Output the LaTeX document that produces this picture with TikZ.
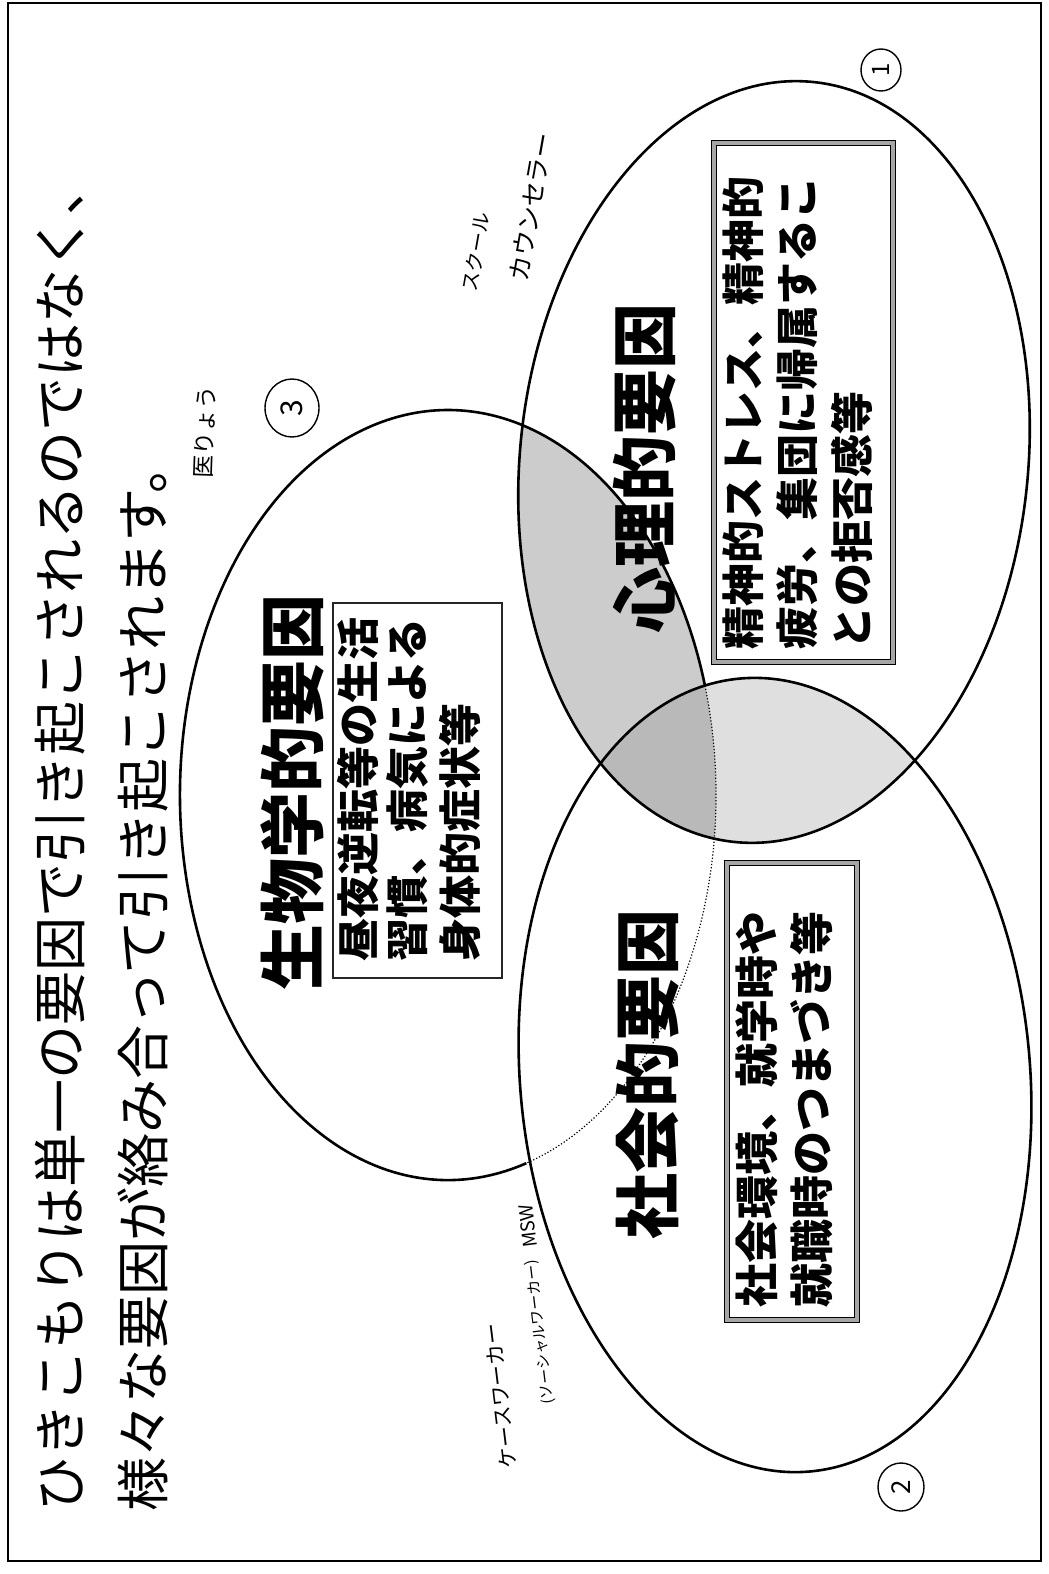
\documentclass[tikz,border=0pt]{standalone}
\usepackage{fontspec}
\setmainfont{Noto Sans CJK JP}
\begin{document}
\begin{tikzpicture}[x=0.5pt,y=-0.5pt,
  outline/.style={line width=1.3pt},
  titletxt/.style={rotate=90,anchor=west,inner sep=0pt,font=\fontsize{27pt}{27pt}\selectfont},
  heading/.style={rotate=90,inner sep=0pt,font=\fontsize{33pt}{33pt}\selectfont\bfseries},
  boxtxt/.style={rotate=90,anchor=west,inner sep=0pt},
  handtxt/.style={inner sep=0pt},
  thinbox/.style={draw=black!85,line width=0.6pt,fill=white},
  thickbox/.style={draw=black,line width=0.8pt,double=gray!70,double distance=1.6pt,fill=white},
  numcirc/.style={draw,line width=0.7pt}
]
\useasboundingbox (0,0) rectangle (1049,1574);
\fill[white] (0,0) rectangle (1049,1574);
\draw[line width=1pt] (8,3) rectangle (1041,1561);

% shading of overlaps
\begin{scope}
  \clip[rotate around={-6:(774,462)}] (774,462) ellipse [x radius=254, y radius=382];
  \fill[gray!40] (448,795) ellipse [x radius=268, y radius=385];
\end{scope}
\begin{scope}
  \clip[rotate around={-6:(774,462)}] (774,462) ellipse [x radius=254, y radius=382];
  \fill[gray!25, rotate around={5:(775,1075)}] (775,1075) ellipse [x radius=255, y radius=398];
\end{scope}
\begin{scope}
  \clip[rotate around={-6:(774,462)}] (774,462) ellipse [x radius=254, y radius=382];
  \clip[rotate around={5:(775,1075)}] (775,1075) ellipse [x radius=255, y radius=398];
  \fill[gray!55] (448,795) ellipse [x radius=268, y radius=385];
\end{scope}

% ellipse outlines
\draw[outline, rotate around={-6:(774,462)}] (774,462) ellipse [x radius=254, y radius=382];
\draw[outline, rotate around={5:(775,1075)}] (775,1075) ellipse [x radius=255, y radius=398];
\draw[outline] (448,795) ++(73:268 and 385) arc[start angle=73, end angle=343.5, x radius=268, y radius=385];
\draw[line width=0.6pt, densely dotted] (448,795) ++(-16.5:268 and 385) arc[start angle=-16.5, end angle=73, x radius=268, y radius=385];

% title
\node[titletxt] (t1) at (60,1512) {ひきこもりは単一の要因で引き起こされるのではなく、};
\node[titletxt] (t2) at (143,1512) {様々な要因が絡み合って引き起こされます。};

% headings
\node[heading] (h3) at (292,792) {生物学的要因};
\node[heading] (h1) at (645,468) {心理的要因};
\node[heading] (h2) at (648,1074) {社会的要因};

% boxes
\draw[thinbox] (333,603) rectangle (502,978);
\node[boxtxt,font=\fontsize{21.5pt}{21.5pt}\selectfont\bfseries] (b3a) at (358,962) {昼夜逆転等の生活};
\node[boxtxt,font=\fontsize{21.5pt}{21.5pt}\selectfont\bfseries] (b3b) at (407,962) {習慣、病気による};
\node[boxtxt,font=\fontsize{21.5pt}{21.5pt}\selectfont\bfseries] (b3c) at (460,962) {身体的症状等};

\draw[thickbox] (714,143) rectangle (893,662);
\node[boxtxt,font=\fontsize{21.5pt}{21.5pt}\selectfont\bfseries] (b1a) at (743,650) {精神的ストレス、精神的};
\node[boxtxt,font=\fontsize{21.5pt}{21.5pt}\selectfont\bfseries] (b1b) at (797,650) {疲労、集団に帰属するこ};
\node[boxtxt,font=\fontsize{21.5pt}{21.5pt}\selectfont\bfseries] (b1c) at (852,650) {との拒否感等};

\draw[thickbox] (727,863) rectangle (857,1320);
\node[boxtxt,font=\fontsize{22pt}{22pt}\selectfont\bfseries] (b2a) at (757,1308) {社会環境、就学時や};
\node[boxtxt,font=\fontsize{22pt}{22pt}\selectfont\bfseries] (b2b) at (812,1308) {就職時のつまづき等};

% circled numbers
\draw[numcirc] (292,408) ellipse [x radius=27, y radius=29];
\node[rotate=90,inner sep=0pt,font=\fontsize{15pt}{15pt}\selectfont] (n3) at (292,408) {3};
\draw[numcirc] (881,70) ellipse [x radius=20, y radius=21];
\node[rotate=90,inner sep=0pt,font=\fontsize{12pt}{12pt}\selectfont] (n1) at (881,70) {1};
\draw[numcirc] (901,1487) ellipse [x radius=23, y radius=24];
\node[rotate=90,inner sep=0pt,font=\fontsize{13pt}{13pt}\selectfont] (n2) at (901,1487) {2};

% handwritten notes
\node[handtxt,rotate=80,font=\fontsize{10pt}{10pt}\selectfont] (s1) at (476,252) {スクール};
\node[handtxt,rotate=80,font=\fontsize{12.5pt}{12.5pt}\selectfont] (s2) at (531,207) {カウンセラー};
\node[handtxt,rotate=88,font=\fontsize{11.5pt}{11.5pt}\selectfont] (s3) at (205,432) {医りょう};
\node[handtxt,rotate=97,font=\fontsize{10.5pt}{10.5pt}\selectfont] (s4) at (500,1396) {ケースワーカー};
\node[handtxt,rotate=97,font=\fontsize{7.5pt}{7.5pt}\selectfont] (s5) at (540,1332) {(ソーシャルワーカー)};
\node[handtxt,rotate=97,font=\fontsize{9.5pt}{9.5pt}\selectfont] (s6) at (528,1226) {MSW};
\end{tikzpicture}
\end{document}
